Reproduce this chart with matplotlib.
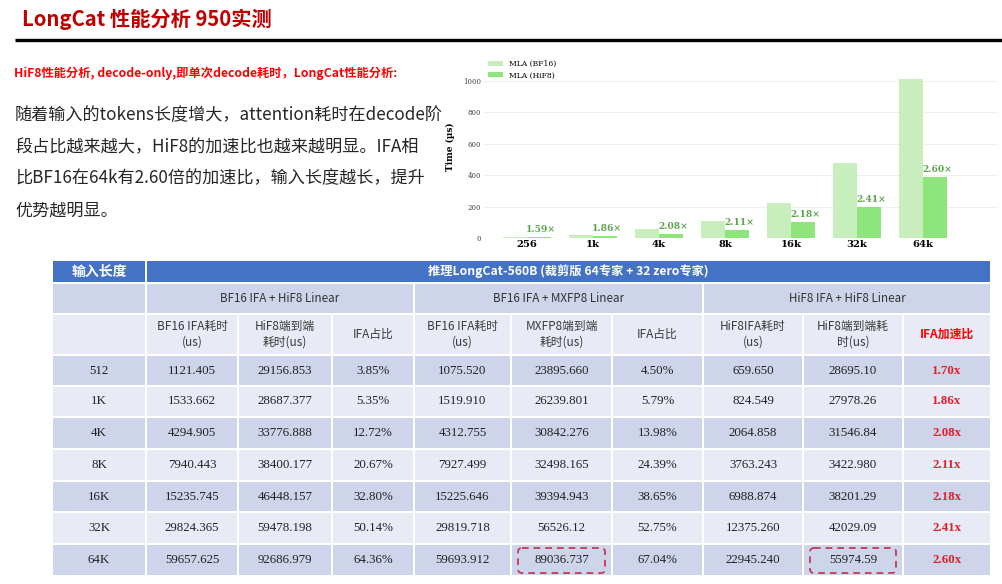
import numpy as np
import matplotlib
matplotlib.use("Agg")
import matplotlib.pyplot as plt
from matplotlib.patches import Rectangle, FancyBboxPatch

# ---------------- data ----------------
title = "LongCat 性能分析 950实测"
subtitle = "HiF8性能分析, decode-only,即单次decode耗时，LongCat性能分析:"
body_lines = [
    "随着输入的tokens长度增大，attention耗时在decode阶",
    "段占比越来越大，HiF8的加速比也越来越明显。IFA相",
    "比BF16在64k有2.60倍的加速比，输入长度越长，提升",
    "优势越明显。",
]

chart_cats = ["256", "1k", "4k", "8k", "16k", "32k", "64k"]
mla_bf16 = [8, 20, 57, 110, 225, 476, 1012]
mla_hif8 = [5, 11, 27, 52, 103, 197, 389]
chart_speedup = ["1.59×", "1.86×", "2.08×", "2.11×", "2.18×", "2.41×", "2.60×"]
series_names = ["MLA (BF16)", "MLA (HiF8)"]

hdr_first = "输入长度"
hdr_main = "推理LongCat-560B (裁剪版 64专家 + 32 zero专家)"
group_names = ["BF16 IFA + HiF8 Linear", "BF16 IFA + MXFP8 Linear", "HiF8 IFA + HiF8 Linear"]
col_headers = ["", "BF16 IFA耗时\n(us)", "HiF8端到端\n耗时(us)", "IFA占比",
               "BF16 IFA耗时\n(us)", "MXFP8端到端\n耗时(us)", "IFA占比",
               "HiF8IFA耗时\n(us)", "HiF8端到端耗\n时(us)", "IFA加速比"]

lengths = ["512", "1K", "4K", "8K", "16K", "32K", "64K"]
bf16_ifa = ["1121.405", "1533.662", "4294.905", "7940.443", "15235.745", "29824.365", "59657.625"]
hif8_e2e = ["29156.853", "28687.377", "33776.888", "38400.177", "46448.157", "59478.198", "92686.979"]
ifa_ratio1 = ["3.85%", "5.35%", "12.72%", "20.67%", "32.80%", "50.14%", "64.36%"]
mx_bf16_ifa = ["1075.520", "1519.910", "4312.755", "7927.499", "15225.646", "29819.718", "59693.912"]
mx_e2e = ["23895.660", "26239.801", "30842.276", "32498.165", "39394.943", "56526.12", "89036.737"]
ifa_ratio2 = ["4.50%", "5.79%", "13.98%", "24.39%", "38.65%", "52.75%", "67.04%"]
hif8_ifa = ["659.650", "824.549", "2064.858", "3763.243", "6988.874", "12375.260", "22945.240"]
hif8_e2e2 = ["28695.10", "27978.26", "31546.84", "3422.980", "38201.29", "42029.09", "55974.59"]
speedup = ["1.70x", "1.86x", "2.08x", "2.11x", "2.18x", "2.41x", "2.60x"]
highlight_cells = [(6, 5), (6, 8)]  # (row, col) with dashed boxes

# ---------------- figure ----------------
W, H = 1003, 584
fig = plt.figure(figsize=(W / 100, H / 100), dpi=100)
fig.patch.set_facecolor("white")

bg = fig.add_axes([0, 0, 1, 1])
bg.set_xlim(0, W)
bg.set_ylim(H, 0)
bg.axis("off")

CJK = ["Noto Sans CJK SC", "DejaVu Sans"]
SERIF = ["Liberation Serif", "DejaVu Serif"]

bg.text(22, 19, title, fontsize=14.6, fontweight="bold", color="#C00000",
        ha="left", va="center", family=CJK)
bg.plot([15, W], [40, 40], color="black", lw=2.4, solid_capstyle="butt")
bg.text(14, 73, subtitle, fontsize=8.8, fontweight="bold", color="#FF0000",
        ha="left", va="center", family=CJK)
for i, line in enumerate(body_lines):
    bg.text(15, 115 + i * 31.8, line, fontsize=12.3, color="#262626",
            ha="left", va="center", family=CJK)

# ---------------- table ----------------
col_edges = [52, 146, 238, 332, 414, 511, 612, 703, 803, 903, 991]
row_edges = [260, 283, 314, 355, 386, 417, 449, 481, 512, 544, 576]
C_HDR = "#4472C4"
C_DARK = "#CED4E9"
C_LIGHT = "#E8EBF5"


def cell(c0, c1, r0, r1, color):
    x0, x1 = col_edges[c0], col_edges[c1]
    y0, y1 = row_edges[r0], row_edges[r1]
    bg.add_patch(Rectangle((x0 + 1, y0 + 1), x1 - x0 - 2, y1 - y0 - 2,
                           facecolor=color, edgecolor="none"))
    return (x0 + x1) / 2, (y0 + y1) / 2


cx, cy = cell(0, 1, 0, 1, C_HDR)
bg.text(cx, cy, hdr_first, fontsize=10, fontweight="bold", color="white",
        ha="center", va="center", family=CJK)
cx, cy = cell(1, 10, 0, 1, C_HDR)
bg.text(cx, cy, hdr_main, fontsize=8.8, fontweight="bold", color="white",
        ha="center", va="center", family=CJK)

cell(0, 1, 1, 2, C_DARK)
for g, name in enumerate(group_names):
    cx, cy = cell(1 + 3 * g, 4 + 3 * g, 1, 2, C_DARK)
    bg.text(cx, cy, name, fontsize=8.4, color="#333333",
            ha="center", va="center", family=CJK)

for c, txt in enumerate(col_headers):
    cx, cy = cell(c, c + 1, 2, 3, C_LIGHT)
    if not txt:
        continue
    lines = txt.split("\n")
    is_red = (c == len(col_headers) - 1)
    for k, ln in enumerate(lines):
        dy = (k - (len(lines) - 1) / 2) * 16
        bg.text(cx, cy + dy, ln, fontsize=8.6 if is_red else 8.5,
                fontweight="bold" if is_red else "normal",
                color="#FF0000" if is_red else "#3a3a3a",
                ha="center", va="center", family=CJK)

columns = [lengths, bf16_ifa, hif8_e2e, ifa_ratio1, mx_bf16_ifa, mx_e2e,
           ifa_ratio2, hif8_ifa, hif8_e2e2, speedup]
for r in range(len(lengths)):
    color = C_DARK if r % 2 == 0 else C_LIGHT
    for c, col in enumerate(columns):
        cx, cy = cell(c, c + 1, 3 + r, 4 + r, color)
        last = (c == len(columns) - 1)
        bg.text(cx, cy, col[r], fontsize=9.3,
                fontweight="bold" if last else "normal",
                color="#E0202A" if last else "#222222",
                ha="center", va="center", family=SERIF)

for (r, c) in highlight_cells:
    x0, x1 = col_edges[c], col_edges[c + 1]
    y0, y1 = row_edges[3 + r], row_edges[4 + r]
    bg.add_patch(FancyBboxPatch((x0 + 7, y0 + 4), x1 - x0 - 14, y1 - y0 - 7,
                                boxstyle="round,pad=0,rounding_size=4",
                                fill=False, edgecolor="#C0304A", lw=1.2,
                                linestyle=(0, (4, 3))))

# ---------------- bar chart ----------------
ax_l, ax_r, ax_b, ax_t = 484, 998, 238, 55
ax = fig.add_axes([ax_l / W, 1 - ax_b / H, (ax_r - ax_l) / W, (ax_b - ax_t) / H])
ax.patch.set_alpha(0)
x = np.arange(len(chart_cats))
w = 0.36
ax.bar(x - w / 2, mla_bf16, w, color="#C9EEBD", label=series_names[0], zorder=2)
ax.bar(x + w / 2, mla_hif8, w, color="#8EE57C", label=series_names[1], zorder=2)
ax.set_xlim((ax_l - 527) / 66, (ax_r - 527) / 66)
ax.set_ylim(0, (ax_b - ax_t) / 157 * 1000)
ax.set_yticks([0, 200, 400, 600, 800, 1000])
ax.yaxis.grid(True, color="#EDEDED", lw=0.6, zorder=0)
ax.set_axisbelow(True)
for s in ax.spines.values():
    s.set_visible(False)
ax.tick_params(axis="both", length=0)
ax.tick_params(axis="y", pad=2, labelsize=5, labelcolor="#444444")
ax.set_xticks(x)
ax.set_xticklabels(chart_cats, fontsize=7.2, fontweight="bold", family="DejaVu Serif")
ax.tick_params(axis="x", pad=1.5)
for lab in ax.get_yticklabels():
    lab.set_family("DejaVu Serif")
ax.set_ylabel("Time (µs)", fontsize=6.5, fontweight="bold", family="DejaVu Serif")
ax.yaxis.set_label_coords((455 - ax_l) / (ax_r - ax_l), 0.5)
for xi, v, s in zip(x, mla_hif8, chart_speedup):
    ax.annotate(s, (xi + w / 2, v), xytext=(1.5, 2), textcoords="offset points",
                ha="center", va="bottom", fontsize=6.6, fontweight="bold",
                color="#5FA34D", family="DejaVu Serif")

fig.legend(loc="upper left", bbox_to_anchor=(488 / W, 1 - 60 / H),
           frameon=False, prop={"family": "DejaVu Serif", "size": 5.5},
           handlelength=2.0, handleheight=0.6, handletextpad=0.7,
           labelspacing=0.45, borderpad=0, borderaxespad=0)

fig.savefig("out.png", dpi=100, facecolor="white")
